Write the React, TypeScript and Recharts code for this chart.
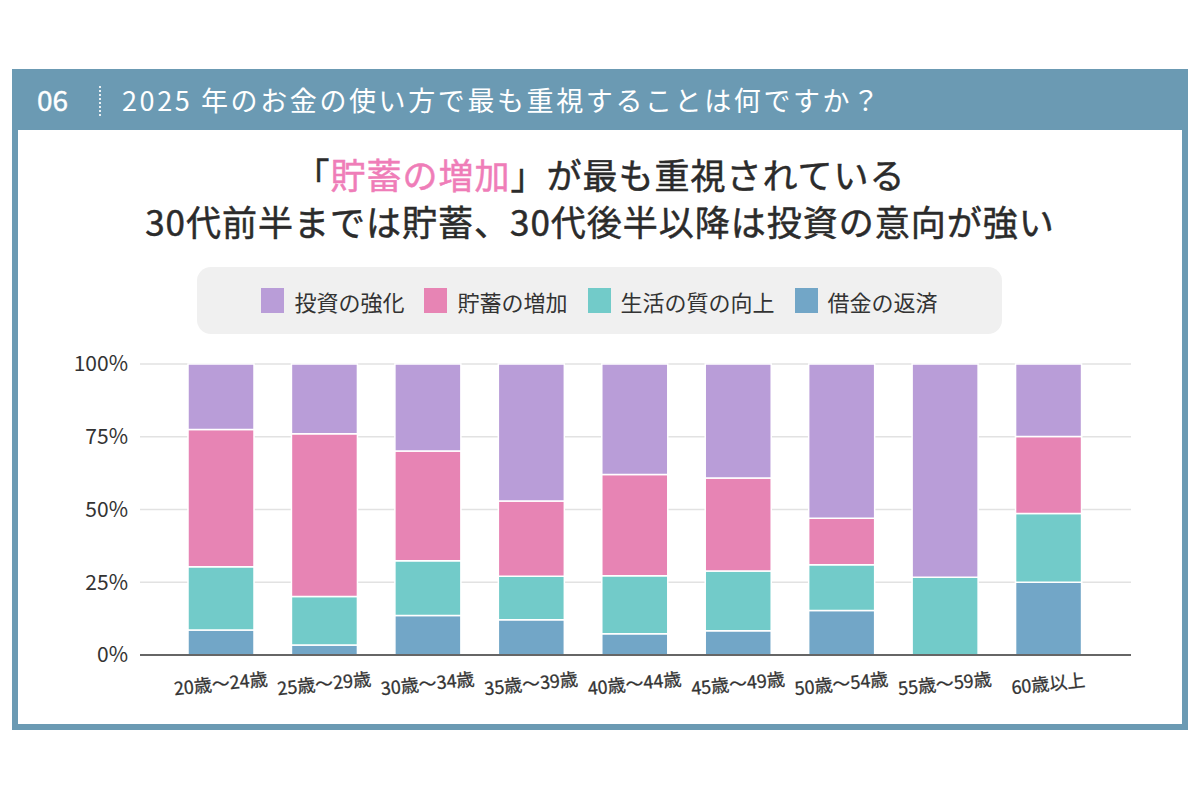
import React from 'react';
import { BarChart, Bar, XAxis, YAxis, CartesianGrid, Legend } from 'recharts';

const ageGroups = [
  '20歳〜24歳',
  '25歳〜29歳',
  '30歳〜34歳',
  '35歳〜39歳',
  '40歳〜44歳',
  '45歳〜49歳',
  '50歳〜54歳',
  '55歳〜59歳',
  '60歳以上',
];

// percentages
const debtRepay = [8.6, 3.4, 13.6, 12.1, 7.3, 8.3, 15.3, 0, 25.0];
const lifeQuality = [21.7, 16.7, 18.8, 15.0, 19.9, 20.6, 15.7, 26.7, 23.6];
const savings = [47.2, 55.9, 37.7, 25.8, 34.8, 31.9, 16.0, 0, 26.5];
const investment = [22.5, 24.0, 29.9, 47.1, 38.0, 39.2, 53.0, 73.3, 24.9];

const yTicks = [0, 25, 50, 75, 100];

// legend order (top of stack first)
const series = [
  { key: 'investment', name: '投資の強化', color: '#b99dd8' },
  { key: 'savings', name: '貯蓄の増加', color: '#e784b4' },
  { key: 'lifeQuality', name: '生活の質の向上', color: '#72cbc9' },
  { key: 'debtRepay', name: '借金の返済', color: '#72a6c7' },
];

const data = ageGroups.map((age, i) => ({
  age,
  debtRepay: debtRepay[i],
  lifeQuality: lifeQuality[i],
  savings: savings[i],
  investment: investment[i],
}));

const FONT = '"Noto Sans CJK JP", "Noto Sans", sans-serif';
const FRAME = '#6b9ab3';

const AgeTick = (props: any) => {
  const { x, payload } = props;
  return (
    <g transform={`translate(${x},684)`}>
      <text
        x={0}
        y={0}
        dy="0.35em"
        textAnchor="middle"
        transform="rotate(-6)"
        fontSize={18}
        fill="#333"
        stroke="#333"
        strokeWidth={0.3}
        fontFamily={FONT}>
        {payload.value}
      </text>
    </g>
  );
};

const LegendBox = () => (
  <div
    style={{
      width: '100%',
      height: '100%',
      background: '#f0f0f0',
      borderRadius: 14,
      display: 'flex',
      alignItems: 'center',
      justifyContent: 'center',
      fontFamily: FONT,
      fontSize: 22,
      color: '#333',
    }}>
    {series.map((s) => (
      <div key={s.key} style={{ display: 'flex', alignItems: 'center', margin: '0 10px' }}>
        <span style={{ display: 'inline-block', width: 23, height: 25, background: s.color, marginRight: 10 }} />
        <span>{s.name}</span>
      </div>
    ))}
  </div>
);

const App: React.FC = () => {
  return (
    <div
      style={{
        position: 'absolute',
        left: 0,
        top: 0,
        width: 1200,
        height: 800,
        background: '#fff',
        fontFamily: FONT,
        overflow: 'hidden',
      }}>
      <div
        style={{
          position: 'absolute',
          left: 12,
          top: 69,
          width: 1176,
          height: 661,
          border: `6px solid ${FRAME}`,
          boxSizing: 'border-box',
        }}
      />
      <div style={{ position: 'absolute', left: 12, top: 69, width: 1176, height: 61, background: FRAME }} />
      <div
        style={{
          position: 'absolute',
          left: 37,
          top: 69,
          height: 61,
          lineHeight: '61px',
          color: '#fff',
          fontSize: 28,
          WebkitTextStroke: '0.4px #fff',
        }}>
        06
      </div>
      <div
        style={{
          position: 'absolute',
          left: 99,
          top: 86,
          height: 30,
          borderLeft: '2px dotted rgba(255,255,255,0.85)',
        }}
      />
      <div
        style={{
          position: 'absolute',
          left: 122,
          top: 69,
          height: 61,
          lineHeight: '61px',
          color: '#fff',
          fontSize: 27,
          letterSpacing: 2.6,
          whiteSpace: 'nowrap',
        }}>
        2025 年のお金の使い方で最も重視することは何ですか？
      </div>
      <div
        style={{
          position: 'absolute',
          left: 0,
          top: 150,
          width: 1200,
          textAlign: 'center',
          fontSize: 35,
          lineHeight: '47px',
          color: '#2b2b2b',
          letterSpacing: 1,
          whiteSpace: 'nowrap',
          WebkitTextStroke: '0.5px #2b2b2b',
        }}>
        <div>
          「<span style={{ color: '#ef7db8', WebkitTextStroke: '0.5px #ef7db8' }}>貯蓄の増加</span>」が最も重視されている
        </div>
        <div>30代前半までは貯蓄、30代後半以降は投資の意向が強い</div>
      </div>
      <div style={{ position: 'absolute', left: 0, top: 0 }}>
        <BarChart
          width={1200}
          height={800}
          data={data}
          margin={{ top: 364, right: 69, bottom: 115, left: 80 }}
          barSize={66}>
          <CartesianGrid vertical={false} stroke="#e2e2e2" strokeWidth={1.5} />
          <XAxis
            dataKey="age"
            interval={0}
            height={30}
            padding={{ left: 29, right: 31 }}
            axisLine={{ stroke: '#666', strokeWidth: 2 }}
            tickLine={false}
            tick={<AgeTick />}
          />
          <YAxis
            width={60}
            domain={[0, 100]}
            ticks={yTicks}
            axisLine={false}
            tickLine={false}
            tickMargin={6}
            tick={{ fontSize: 21, fill: '#333', fontFamily: FONT }}
            tickFormatter={(v: number) => `${v}%`}
          />
          <Legend
            layout="horizontal"
            verticalAlign="middle"
            align="center"
            content={<LegendBox />}
            wrapperStyle={{ position: 'absolute', left: 197, top: 267, width: 805, height: 67 }}
          />
          {[...series].reverse().map((s) => (
            <Bar
              key={s.key}
              dataKey={s.key}
              name={s.name}
              stackId="a"
              fill={s.color}
              stroke="#fff"
              strokeWidth={1.5}
              isAnimationActive={false}
            />
          ))}
        </BarChart>
      </div>
    </div>
  );
};

export default App;
